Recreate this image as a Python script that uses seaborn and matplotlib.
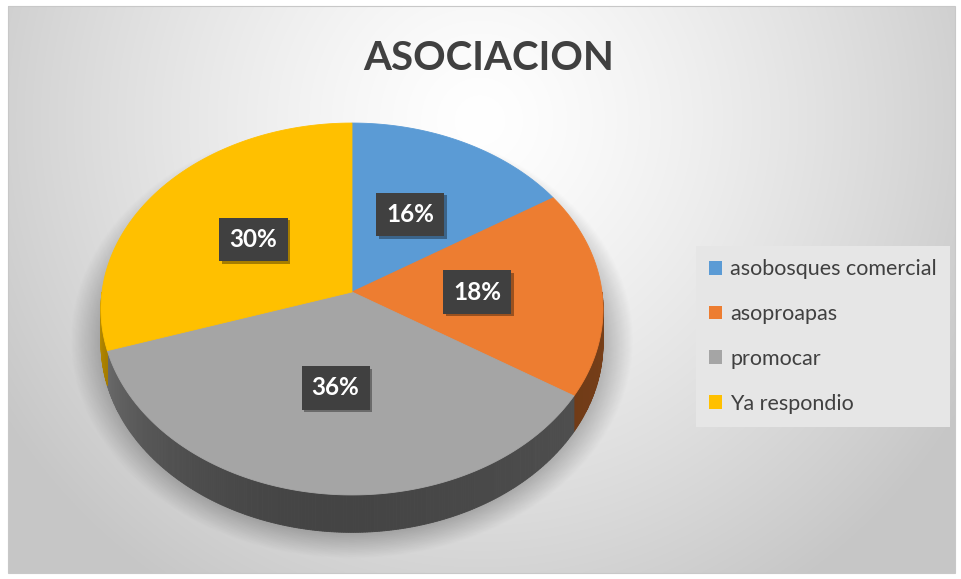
import numpy as np
import matplotlib
matplotlib.use("Agg")
import matplotlib.pyplot as plt
import seaborn as sns
from matplotlib.patches import Polygon, Rectangle, Patch
import matplotlib.patheffects as pe

# ---- data ----
categories = ["asobosques comercial", "asoproapas", "promocar", "Ya respondio"]
values = [16, 18, 36, 30]
title = "ASOCIACION"

sns.set_theme(style="white")
plt.rcParams['font.family'] = ['Lato', 'DejaVu Sans']

colors = sns.color_palette(["#5B9BD5", "#ED7D31", "#A5A5A5", "#FFC000"])
text_col = "#404040"

W, H = 961, 579
fig = plt.figure(figsize=(W / 100, H / 100), dpi=100)
fig.patch.set_facecolor("white")
ax = fig.add_axes([0, 0, 1, 1])
ax.set_xlim(0, W)
ax.set_ylim(H, 0)
ax.axis("off")

# ---- background (radial gradient) ----
fx0, fy0, fx1, fy1 = 8, 6, 955, 573
gx, gy = np.meshgrid(np.linspace(fx0, fx1, 480), np.linspace(fy0, fy1, 290))
d = np.sqrt(((gx - 480) / 560) ** 2 + ((gy - 120) / 560) ** 2)
v = 1 - 0.22 * np.clip(d, 0, 1) ** 1.3
bg = np.dstack([v, v, v])
ax.imshow(bg, extent=(fx0, fx1, fy1, fy0), aspect="auto", zorder=0, interpolation="bilinear")
ax.add_patch(Rectangle((fx0, fy0), fx1 - fx0, fy1 - fy0, fill=False, ec="#c8c8c8", lw=0.8, zorder=1))

# ---- pie geometry (perspective) ----
cx, cy, a, b, k, depth = 352, 292, 250, 184.4, 0.0914, 34


def proj(rho, t):
    r = np.radians(t)
    X, Y = rho * np.cos(r), rho * np.sin(r)
    f = 1 / (1 + k * Y)
    return cx + a * X * f, cy - b * Y * f, f


# shadow (soft, below the pie)
sx, sy = np.meshgrid(np.linspace(60, 660, 300), np.linspace(150, 578, 240))
e = np.sqrt(((sx - 352) / 264) ** 2 + ((sy - 340) / 205) ** 2)
alpha = 0.26 * np.clip((1.07 - e) / 0.13, 0, 1)
sh = np.zeros(sx.shape + (4,))
sh[..., 3] = alpha
ax.imshow(sh, extent=(60, 660, 578, 150), aspect="auto", zorder=2, interpolation="bilinear")

total = sum(values)
bounds = [90.0]
for val in values:
    bounds.append(bounds[-1] - 360.0 * val / total)


def shade(t):
    if t < -90:
        return 0.41 + 0.37 * ((t + 90) / 90) ** 2
    return 0.41 + 0.1 * ((t + 90) / 90)


# side walls
for i, val in enumerate(values):
    t0, t1 = bounds[i], bounds[i + 1]
    lo, hi = max(t1, -180), min(t0, 0)
    if lo >= hi:
        continue
    ts = np.linspace(lo, hi, int((hi - lo) * 2) + 2)
    for ta, tb in zip(ts[:-1], ts[1:]):
        xa, ya, fa = proj(1, ta)
        xb, yb, fb = proj(1, tb)
        s = shade((ta + tb) / 2)
        c = tuple(np.clip(np.array(colors[i]) * s, 0, 1))
        poly = [(xa, ya), (xb, yb), (xb, yb + depth * fb), (xa, ya + depth * fa)]
        ax.add_patch(Polygon(poly, closed=True, fc=c, ec=c, lw=0.6, zorder=3))

# top faces
for i, val in enumerate(values):
    t0, t1 = bounds[i], bounds[i + 1]
    ts = np.linspace(t0, t1, 200)
    pts = [(cx, cy)] + [proj(1, t)[:2] for t in ts]
    ax.add_patch(Polygon(pts, closed=True, fc=colors[i], ec=colors[i], lw=0.6, zorder=4))

# data labels
for i, val in enumerate(values):
    mid = (bounds[i] + bounds[i + 1]) / 2
    x, y, _ = proj(0.5, mid)
    t = ax.text(x, y, f"{round(100 * val / total)}%", ha="center", va="center",
                fontsize=17.5, fontweight="bold", color="white", zorder=6,
                bbox=dict(boxstyle="square,pad=0.42", fc="#404040", ec="none"))
    t.get_bbox_patch().set_path_effects([
        pe.SimplePatchShadow(offset=(2, -2), shadow_rgbFace="black", alpha=0.35), pe.Normal()])

# title
ax.text(489, 58, title, ha="center", va="center", fontsize=29, fontweight="bold",
        color=text_col, zorder=6)

# legend
handles = [Patch(fc=colors[i], ec="none", label=categories[i]) for i in range(len(values))]
leg = ax.legend(handles=handles, loc="upper left", bbox_to_anchor=(696 / W, 1 - 246 / H),
                borderaxespad=0, frameon=True, fancybox=False, framealpha=1,
                facecolor="#e6e6e6", edgecolor="none", fontsize=15.5,
                handlelength=0.6, handleheight=0.6, handletextpad=0.37,
                labelspacing=1.15, borderpad=0.62, labelcolor=text_col)
leg.set_zorder(7)

fig.savefig("out.png", dpi=100, facecolor="white")
